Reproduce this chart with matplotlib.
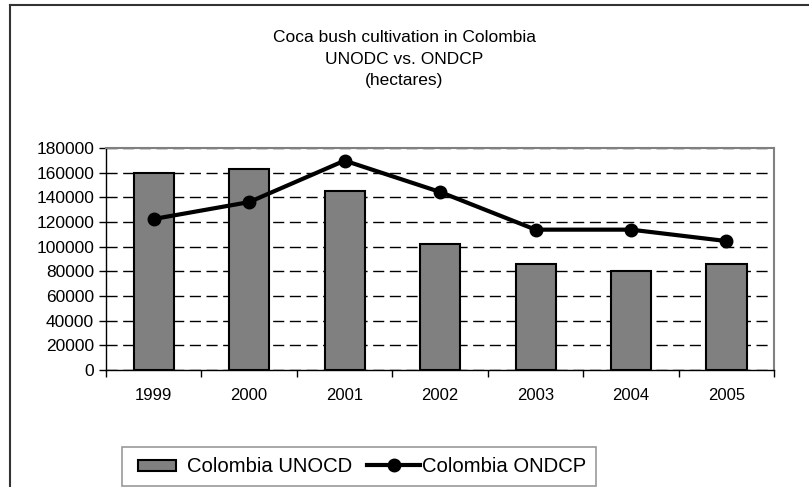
import numpy as np
import matplotlib.pyplot as plt
from matplotlib.lines import Line2D
from matplotlib.patches import Rectangle
from matplotlib.legend_handler import HandlerPatch

plt.rcParams['font.family'] = ['Liberation Sans', 'DejaVu Sans']

# Données
years = ['1999', '2000', '2001', '2002', '2003', '2004', '2005']
unodc = [160000, 163000, 144800, 102000, 86000, 80000, 86000]
ondcp = [122500, 136200, 169800, 144400, 113850, 113850, 104600]

fig = plt.figure(figsize=(8.09, 4.87), dpi=100)
ax = fig.add_axes([0.131, 0.240, 0.826, 0.456])

x = np.arange(len(years))
ax.bar(x, unodc, width=0.42, color='#808080', edgecolor='black', linewidth=1.5,
       label='Colombia UNOCD', zorder=3)
ax.plot(x, ondcp, color='black', linewidth=3, marker='o', markersize=9,
        label='Colombia ONDCP', zorder=4)

ax.set_xlim(-0.5, len(years) - 0.5)
ax.set_ylim(0, 180000)
ax.set_yticks(np.arange(0, 180001, 20000))
ax.yaxis.grid(True, color='black', linestyle=(0, (8, 4)), linewidth=1, zorder=0)
ax.set_axisbelow(True)

ax.set_xticks(x)
ax.set_xticklabels(years, fontsize=12)
ax.set_xticks(np.arange(-0.5, len(years), 1), minor=True)
ax.tick_params(axis='x', which='major', length=0, pad=13)
ax.tick_params(axis='x', which='minor', length=5, width=1, direction='out')
ax.tick_params(axis='y', length=5, width=1, labelsize=12.5, pad=3.5)

for s in ['top', 'right']:
    ax.spines[s].set_color('#808080')
    ax.spines[s].set_linewidth(1.5)
for s in ['left', 'bottom']:
    ax.spines[s].set_color('black')
    ax.spines[s].set_linewidth(1)

fig.text(0.5, 1 - 59 / 487, 'Coca bush cultivation in Colombia\nUNODC vs. ONDCP\n(hectares)',
         ha='center', va='center', fontsize=12.5, linespacing=1.55)

# Cadre de la figure (gauche et haut)
fig.add_artist(Line2D([0.012, 0.012], [0, 0.989], color='#333333', linewidth=1.5,
                      transform=fig.transFigure))
fig.add_artist(Line2D([0.012, 1], [0.989, 0.989], color='#333333', linewidth=1.5,
                      transform=fig.transFigure))


def petit_rect(legend, orig_handle, xdescent, ydescent, width, height, fontsize):
    return Rectangle((xdescent + width * 0.12, ydescent + height * 0.1), width * 0.72, height * 0.75)


handles = [Rectangle((0, 0), 1, 1, facecolor='#808080', edgecolor='black', linewidth=1.5),
           Line2D([], [], color='black', linewidth=3, marker='o', markersize=9)]
leg = fig.legend(handles, ['Colombia UNOCD', 'Colombia ONDCP'], ncol=2,
                 loc='upper left', bbox_to_anchor=(122 / 809, 1 - 447 / 487),
                 fontsize=14.6, frameon=True, fancybox=False, borderaxespad=0,
                 handlelength=2.6, handletextpad=0.1, columnspacing=0.75,
                 borderpad=0.5,
                 handler_map={Rectangle: HandlerPatch(patch_func=petit_rect)})
leg.get_frame().set_edgecolor('#808080')
leg.get_frame().set_linewidth(1.2)

fig.savefig('out.png', dpi=100)
